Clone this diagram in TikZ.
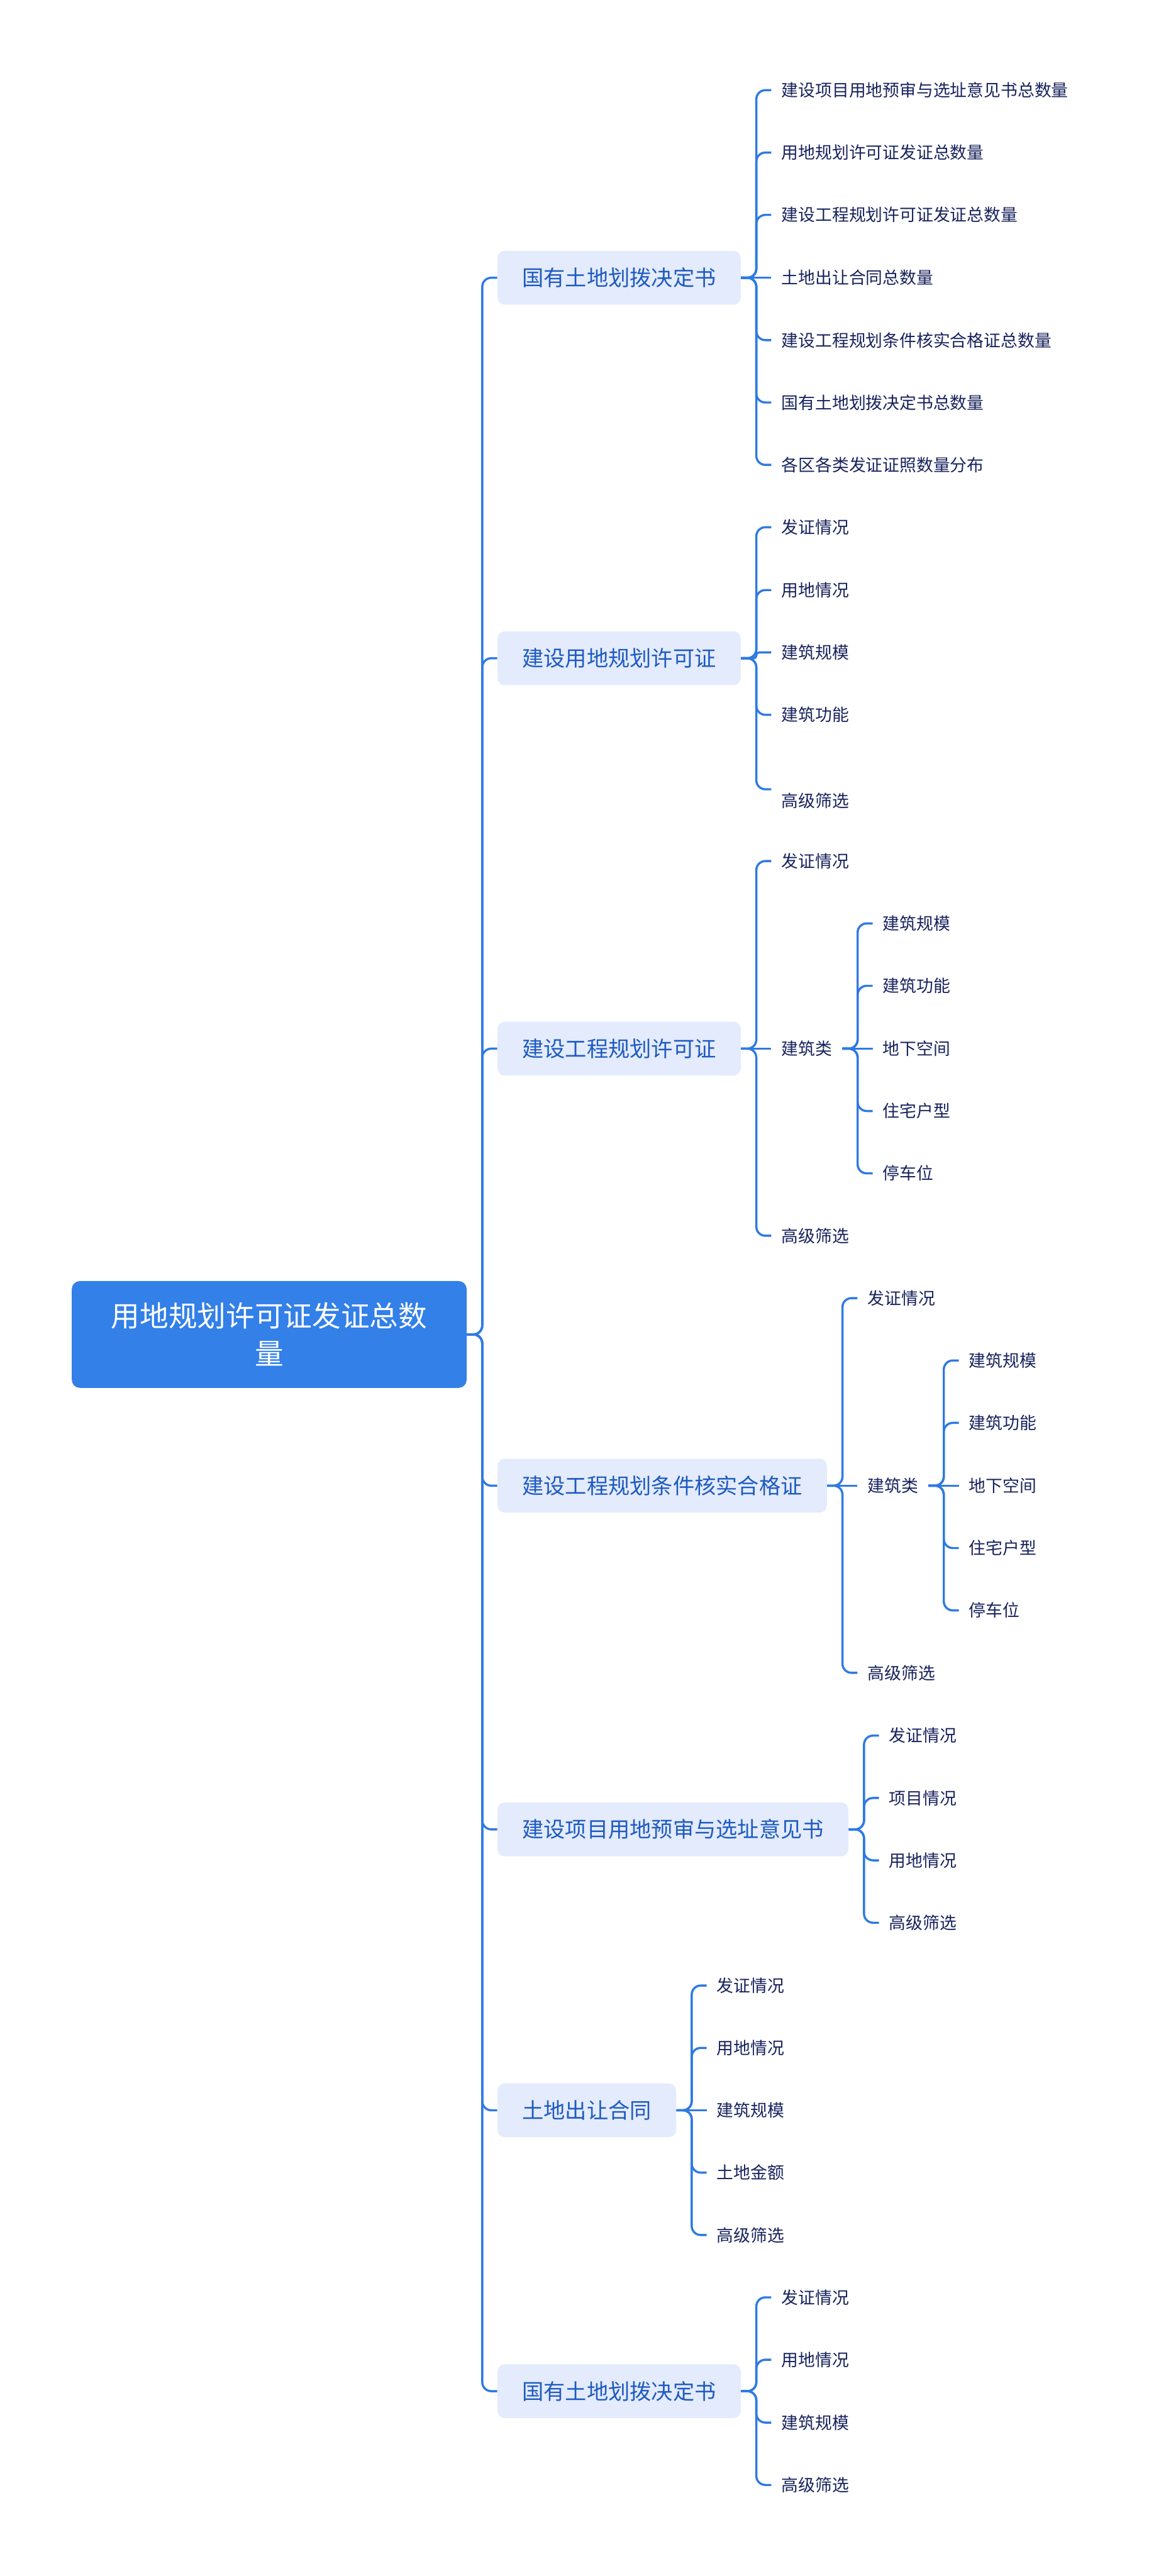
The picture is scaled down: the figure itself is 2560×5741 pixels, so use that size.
\documentclass[tikz,border=0pt]{standalone}
\usepackage{fontspec}
\newfontfamily\cjkfont{Noto Sans CJK SC}
\definecolor{rootblue}{RGB}{50,128,232}
\definecolor{linkblue}{RGB}{46,122,226}
\definecolor{topicfill}{RGB}{227,235,252}
\definecolor{topictext}{RGB}{30,90,192}
\definecolor{leaftext}{RGB}{24,34,92}

\begin{document}
\begin{tikzpicture}[x=0.25pt,y=-0.25pt,
    link/.style={draw=linkblue,line width=1.2pt,rounded corners=5pt},
    rootbox/.style={fill=rootblue,text=white,rounded corners=4.5pt,minimum width=220pt,minimum height=59.5pt,align=center,font=\cjkfont\fontsize{16}{21}\selectfont},
    topic/.style={anchor=west,fill=topicfill,text=topictext,rounded corners=4pt,inner xsep=13.75pt,inner ysep=0pt,minimum height=30pt,text height=10.56pt,text depth=1.44pt,font=\cjkfont\fontsize{12}{14}\selectfont},
    leaf/.style={anchor=west,text=leaftext,inner xsep=5.5pt,inner ysep=0pt,text height=8.27pt,text depth=1.13pt,font=\cjkfont\fontsize{9.4}{11}\selectfont},
    lowleaf/.style={leaf,text height=21.27pt}]
    \useasboundingbox (0,0) rectangle (2560,5741);

    \node[rootbox] (root) at (600,2974) {用地规划许可证发证总数\\量};

    \node[topic] (b1) at (1108,619) {国有土地划拨决定书};
    \node[topic] (b2) at (1108,1467) {建设用地规划许可证};
    \node[topic] (b3) at (1108,2337) {建设工程规划许可证};
    \node[topic] (b4) at (1108,3311) {建设工程规划条件核实合格证};
    \node[topic] (b5) at (1108,4077) {建设项目用地预审与选址意见书};
    \node[topic] (b6) at (1108,4703) {土地出让合同};
    \node[topic] (b7) at (1108,5329) {国有土地划拨决定书};

    \draw[link] (root.east) -- ++(34,0) |- (b1.west);
    \draw[link] (root.east) -- ++(34,0) |- (b2.west);
    \draw[link] (root.east) -- ++(34,0) |- (b3.west);
    \draw[link] (root.east) -- ++(34,0) |- (b4.west);
    \draw[link] (root.east) -- ++(34,0) |- (b5.west);
    \draw[link] (root.east) -- ++(34,0) |- (b6.west);
    \draw[link] (root.east) -- ++(34,0) |- (b7.west);

    \node[leaf] (b1a) at (1719,201) {建设项目用地预审与选址意见书总数量};
    \node[leaf] (b1b) at (1719,340) {用地规划许可证发证总数量};
    \node[leaf] (b1c) at (1719,479) {建设工程规划许可证发证总数量};
    \node[leaf] (b1d) at (1719,619) {土地出让合同总数量};
    \node[leaf] (b1e) at (1719,758) {建设工程规划条件核实合格证总数量};
    \node[leaf] (b1f) at (1719,897) {国有土地划拨决定书总数量};
    \node[leaf] (b1g) at (1719,1036) {各区各类发证证照数量分布};
    \draw[link] (b1.east) -- ++(34,0) |- (b1a.west);
    \draw[link] (b1.east) -- ++(34,0) |- (b1b.west);
    \draw[link] (b1.east) -- ++(34,0) |- (b1c.west);
    \draw[link] (b1.east) -- (b1d.west);
    \draw[link] (b1.east) -- ++(34,0) |- (b1e.west);
    \draw[link] (b1.east) -- ++(34,0) |- (b1f.west);
    \draw[link] (b1.east) -- ++(34,0) |- (b1g.west);

    \node[leaf] (b2a) at (1719,1175) {发证情况};
    \node[leaf] (b2b) at (1719,1315) {用地情况};
    \node[leaf] (b2c) at (1719,1454) {建筑规模};
    \node[leaf] (b2d) at (1719,1593) {建筑功能};
    \node[lowleaf] (b2e) at (1719,1759) {高级筛选};
    \draw[link] (b2.east) -- ++(34,0) |- (b2a.west);
    \draw[link] (b2.east) -- ++(34,0) |- (b2b.west);
    \draw[link,rounded corners=1.5pt] (b2.east) -- ++(34,0) |- (b2c.west);
    \draw[link] (b2.east) -- ++(34,0) |- (b2d.west);
    \draw[link] (b2.east) -- ++(34,0) |- (b2e.west);

    \node[leaf] (b3a) at (1719,1919) {发证情况};
    \node[leaf] (b3b) at (1719,2337) {建筑类};
    \node[leaf] (b3c) at (1719,2754) {高级筛选};
    \draw[link] (b3.east) -- ++(34,0) |- (b3a.west);
    \draw[link] (b3.east) -- (b3b.west);
    \draw[link] (b3.east) -- ++(34,0) |- (b3c.west);
    \node[leaf] (b3b1) at (1945,2058) {建筑规模};
    \node[leaf] (b3b2) at (1945,2197) {建筑功能};
    \node[leaf] (b3b3) at (1945,2337) {地下空间};
    \node[leaf] (b3b4) at (1945,2476) {住宅户型};
    \node[leaf] (b3b5) at (1945,2615) {停车位};
    \draw[link] (b3b.east) -- ++(34,0) |- (b3b1.west);
    \draw[link] (b3b.east) -- ++(34,0) |- (b3b2.west);
    \draw[link] (b3b.east) -- (b3b3.west);
    \draw[link] (b3b.east) -- ++(34,0) |- (b3b4.west);
    \draw[link] (b3b.east) -- ++(34,0) |- (b3b5.west);

    \node[leaf] (b4a) at (1911,2893) {发证情况};
    \node[leaf] (b4b) at (1911,3311) {建筑类};
    \node[leaf] (b4c) at (1911,3728) {高级筛选};
    \draw[link] (b4.east) -- ++(34,0) |- (b4a.west);
    \draw[link] (b4.east) -- (b4b.west);
    \draw[link] (b4.east) -- ++(34,0) |- (b4c.west);
    \node[leaf] (b4b1) at (2137,3032) {建筑规模};
    \node[leaf] (b4b2) at (2137,3171) {建筑功能};
    \node[leaf] (b4b3) at (2137,3311) {地下空间};
    \node[leaf] (b4b4) at (2137,3450) {住宅户型};
    \node[leaf] (b4b5) at (2137,3589) {停车位};
    \draw[link] (b4b.east) -- ++(34,0) |- (b4b1.west);
    \draw[link] (b4b.east) -- ++(34,0) |- (b4b2.west);
    \draw[link] (b4b.east) -- (b4b3.west);
    \draw[link] (b4b.east) -- ++(34,0) |- (b4b4.west);
    \draw[link] (b4b.east) -- ++(34,0) |- (b4b5.west);

    \node[leaf] (b5a) at (1959,3868) {发证情况};
    \node[leaf] (b5b) at (1959,4007) {项目情况};
    \node[leaf] (b5c) at (1959,4146) {用地情况};
    \node[leaf] (b5d) at (1959,4285) {高级筛选};
    \draw[link] (b5.east) -- ++(34,0) |- (b5a.west);
    \draw[link] (b5.east) -- ++(34,0) |- (b5b.west);
    \draw[link] (b5.east) -- ++(34,0) |- (b5c.west);
    \draw[link] (b5.east) -- ++(34,0) |- (b5d.west);

    \node[leaf] (b6a) at (1575,4425) {发证情况};
    \node[leaf] (b6b) at (1575,4564) {用地情况};
    \node[leaf] (b6c) at (1575,4703) {建筑规模};
    \node[leaf] (b6d) at (1575,4842) {土地金额};
    \node[leaf] (b6e) at (1575,4981) {高级筛选};
    \draw[link] (b6.east) -- ++(34,0) |- (b6a.west);
    \draw[link] (b6.east) -- ++(34,0) |- (b6b.west);
    \draw[link] (b6.east) -- (b6c.west);
    \draw[link] (b6.east) -- ++(34,0) |- (b6d.west);
    \draw[link] (b6.east) -- ++(34,0) |- (b6e.west);

    \node[leaf] (b7a) at (1719,5120) {发证情况};
    \node[leaf] (b7b) at (1719,5259) {用地情况};
    \node[leaf] (b7c) at (1719,5399) {建筑规模};
    \node[leaf] (b7d) at (1719,5538) {高级筛选};
    \draw[link] (b7.east) -- ++(34,0) |- (b7a.west);
    \draw[link] (b7.east) -- ++(34,0) |- (b7b.west);
    \draw[link] (b7.east) -- ++(34,0) |- (b7c.west);
    \draw[link] (b7.east) -- ++(34,0) |- (b7d.west);
\end{tikzpicture}
\end{document}
